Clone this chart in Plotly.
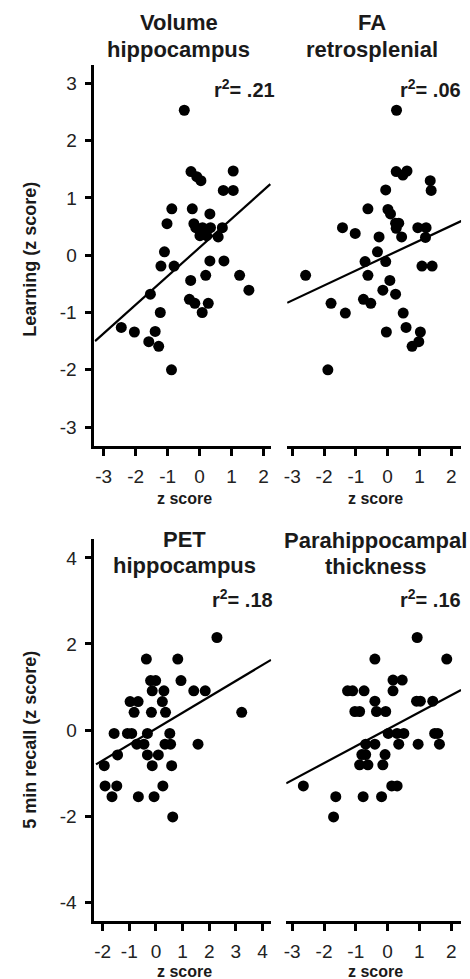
import plotly.graph_objects as go

W, H = 470, 979

# ---------------- data ----------------
vol_hip_x = [-0.48, -0.27, -0.09, 0.04, 1.05, 0.74, 1.05, -0.87, -0.23, 0.32, -1.02, -0.18, -0.12,
             0.09, 0.34, 0.71, 0.01, 0.22, 0.58, 0.17, -1.10, -1.21, -0.80, 0.32, 0.76, 0.19, 1.25,
             -0.28, 1.54, -1.54, -0.32, -0.15, 0.27, 0.08, -1.23, -2.45, -2.04, -1.39, -1.59, -1.28, -0.88]
vol_hip_y = [2.53, 1.46, 1.37, 1.30, 1.47, 1.13, 1.13, 0.81, 0.81, 0.72, 0.55, 0.55, 0.48,
             0.48, 0.48, 0.48, 0.34, 0.34, 0.32, 0.41, 0.06, -0.19, -0.19, -0.10, -0.10, -0.35, -0.35,
             -0.44, -0.61, -0.68, -0.77, -0.84, -0.84, -1.00, -1.00, -1.26, -1.34, -1.33, -1.51, -1.59, -2.00]
vol_hip_fit_x = [-3.27, 2.21]
vol_hip_fit_y = [-1.50, 1.24]

fa_rsp_x = [0.28, 0.27, 0.48, 0.61, 1.34, 1.37, -0.06, -0.62, 0.01, 0.09, 0.25, 0.35, 0.27, 0.95,
            1.21, -1.42, -1.02, -0.27, 0.44, 1.19, -0.32, -0.71, -0.06, 1.08, 1.40, -2.58, -0.62,
            0.07, -0.15, 0.25, -0.76, -0.53, -1.78, -1.33, 0.49, 0.58, -0.04, 1.03, 0.98, 0.77, -1.88]
fa_rsp_y = [2.53, 1.46, 1.40, 1.47, 1.30, 1.13, 1.14, 0.81, 0.80, 0.72, 0.56, 0.56, 0.47, 0.48,
            0.48, 0.48, 0.38, 0.32, 0.32, 0.31, 0.06, -0.11, -0.11, -0.19, -0.19, -0.35, -0.35,
            -0.44, -0.61, -0.68, -0.77, -0.84, -0.84, -1.01, -1.01, -1.26, -1.34, -1.34, -1.51, -1.59, -2.00]
fa_rsp_fit_x = [-3.16, 2.33]
fa_rsp_fit_y = [-0.83, 0.60]

pet_hip_x = [2.29, -0.36, 0.82, -0.20, -0.01, 0.94, -0.14, 0.30, 1.42, 1.85, -0.97, -0.67, 0.24,
             -0.82, -0.17, 0.36, 3.22, -1.57, -1.07, -0.91, -0.32, 0.52, -0.72, -0.45, 0.34, 0.55,
             1.58, -1.44, -0.32, 0.09, -1.94, -0.14, 0.59, -1.91, -1.47, 0.26, -1.65, -0.66, -0.07, 0.63]
pet_hip_y = [2.15, 1.65, 1.65, 1.15, 1.15, 1.15, 0.91, 0.91, 0.91, 0.91, 0.66, 0.66, 0.66,
             0.41, 0.41, 0.41, 0.41, -0.08, -0.08, -0.08, -0.08, -0.08, -0.33, -0.33, -0.33, -0.33,
             -0.33, -0.58, -0.58, -0.58, -0.83, -0.83, -0.83, -1.30, -1.30, -1.30, -1.55, -1.55, -1.55, -2.02]
pet_hip_fit_x = [-2.25, 4.32]
pet_hip_fit_y = [-0.80, 1.63]

para_thk_x = [0.93, -0.40, 1.86, 0.17, 0.46, -1.26, -1.10, -0.74, 0.17, -0.40, 0.91, 1.03, 1.42,
              -1.03, -0.88, -0.35, -0.06, 0.02, 0.30, 0.51, 1.48, 1.58, -0.69, -0.40, 0.35, 0.96,
              1.63, -0.81, -0.69, -0.08, -0.88, -0.62, -0.15, 0.13, 0.30, -2.65, -1.63, -0.77, -0.19, -1.70]
para_thk_y = [2.15, 1.65, 1.65, 1.16, 1.16, 0.91, 0.91, 0.91, 0.91, 0.67, 0.67, 0.67, 0.67,
              0.43, 0.43, 0.43, 0.43, -0.08, -0.08, -0.08, -0.08, -0.08, -0.33, -0.33, -0.33, -0.33,
              -0.33, -0.57, -0.57, -0.57, -0.81, -0.81, -0.81, -1.30, -1.30, -1.30, -1.55, -1.55, -1.55, -2.02]
para_thk_fit_x = [-3.19, 2.31]
para_thk_fit_y = [-1.24, 0.93]

panel_titles = [["Volume", "hippocampus"], ["FA", "retrosplenial"],
                ["PET", "hippocampus"], ["Parahippocampal", "thickness"]]
r2_labels = [".21", ".06", ".18", ".16"]
y_titles = ["Learning (z score)", "5 min recall (z score)"]
x_title = "z score"
top_yticks = [-3, -2, -1, 0, 1, 2, 3]
bot_yticks = [-4, -2, 0, 2, 4]
x_ticks_a = [-3, -2, -1, 0, 1, 2]
x_ticks_pet = [-2, -1, 0, 1, 2, 3, 4]

# ---------------- layout helpers ----------------
def px(x):
    return x / W

def py(y):
    return 1 - y / H

def labels(vals):
    return [str(v) for v in vals]  # plain hyphen minus, as in the original

FONT = "Liberation Sans, Arial, sans-serif"
fig = go.Figure()

panels = [
    dict(x=vol_hip_x, y=vol_hip_y, fx=vol_hip_fit_x, fy=vol_hip_fit_y),
    dict(x=fa_rsp_x, y=fa_rsp_y, fx=fa_rsp_fit_x, fy=fa_rsp_fit_y),
    dict(x=pet_hip_x, y=pet_hip_y, fx=pet_hip_fit_x, fy=pet_hip_fit_y),
    dict(x=para_thk_x, y=para_thk_y, fx=para_thk_fit_x, fy=para_thk_fit_y),
]

for i, p in enumerate(panels, start=1):
    xa = "x" if i == 1 else f"x{i}"
    ya = "y" if i == 1 else f"y{i}"
    fig.add_trace(go.Scatter(x=p["fx"], y=p["fy"], mode="lines",
                             line=dict(color="black", width=2.2),
                             xaxis=xa, yaxis=ya, showlegend=False, hoverinfo="skip"))
    fig.add_trace(go.Scatter(x=p["x"], y=p["y"], mode="markers",
                             marker=dict(color="black", size=11, line=dict(width=0)),
                             xaxis=xa, yaxis=ya, showlegend=False))

tickfont = dict(family=FONT, size=19, color="#222")
common = dict(showline=True, linecolor="black", linewidth=2.8, ticks="outside",
              ticklen=7, tickwidth=2.8, tickcolor="black", showgrid=False, zeroline=False,
              tickfont=tickfont, ticklabelstandoff=4)
hidden_y = dict(showline=False, showticklabels=False, ticks="", showgrid=False, zeroline=False)

top_dom = [py(446), py(65)]
bot_dom = [py(921), py(539)]

fig.update_layout(
    width=W, height=H, margin=dict(l=0, r=0, t=0, b=0),
    plot_bgcolor="white", paper_bgcolor="white",
    xaxis=dict(common, domain=[px(92), px(270)], range=[-3.29, 2.24],
               tickvals=x_ticks_a, ticktext=labels(x_ticks_a), anchor="y"),
    yaxis=dict(common, domain=top_dom, range=[-3.33, 3.32], tickvals=top_yticks,
               ticktext=labels(top_yticks), anchor="x"),
    xaxis2=dict(common, domain=[px(286), px(461)], range=[-3.16, 2.31],
                tickvals=x_ticks_a, ticktext=labels(x_ticks_a), anchor="y2"),
    yaxis2=dict(hidden_y, domain=top_dom, range=[-3.33, 3.32], anchor="x2"),
    xaxis3=dict(common, domain=[px(92), px(270)], range=[-2.31, 4.33],
                tickvals=x_ticks_pet, ticktext=labels(x_ticks_pet), anchor="y3"),
    yaxis3=dict(common, domain=bot_dom, range=[-4.44, 4.44], tickvals=bot_yticks,
                ticktext=labels(bot_yticks), anchor="x3"),
    xaxis4=dict(common, domain=[px(285), px(461)], range=[-3.19, 2.31],
                tickvals=x_ticks_a, ticktext=labels(x_ticks_a), anchor="y4"),
    yaxis4=dict(hidden_y, domain=bot_dom, range=[-4.44, 4.44], anchor="x4"),
)

def note(text, x, y, size, xanchor="center", angle=0):
    fig.add_annotation(text=f"<b>{text}</b>", x=px(x), y=py(y),
                       xref="paper", yref="paper", showarrow=False, xanchor=xanchor,
                       yanchor="middle", textangle=angle,
                       font=dict(family=FONT, size=size, color="#1a1a1a"))

# panel titles
title_pos = [(177, 22, 49), (371, 22, 49), (183, 539, 565), (375, 540, 566)]
for (l1, l2), (cx, y1, y2) in zip(panel_titles, title_pos):
    note(l1, cx, y1, 22)
    note(l2, cx, y2, 22)

# r^2 labels
r2_pos = [(276, 88), (463, 88), (274, 598), (463, 598)]
for lab, (rx, ry) in zip(r2_labels, r2_pos):
    note(f"r<sup>2</sup>= {lab}", rx, ry, 20, xanchor="right")

# x axis titles
for cx, cy in [(183, 498), (375, 498), (183, 971), (375, 971)]:
    note(x_title, cx, cy, 16)

# y axis titles
note(y_titles[0], 27, 259, 18, angle=-90)
note(y_titles[1], 27, 740, 18, angle=-90)

fig.write_html("out.html", config={"displayModeBar": False},
               post_script="document.body.style.margin='0px';document.body.style.padding='0px';")
